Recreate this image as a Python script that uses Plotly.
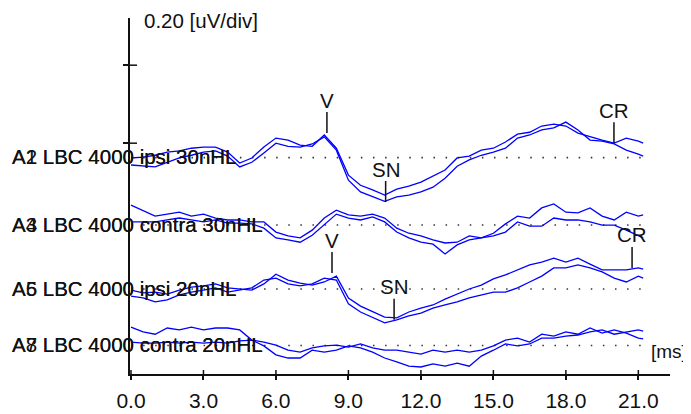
import plotly.graph_objects as go

# time axis (ms)
time_ms = [0.0, 0.5, 1.0, 1.5, 2.0, 2.5, 3.0, 3.5, 4.0, 4.5,
           5.0, 5.5, 6.0, 6.5, 7.0, 7.5, 8.0, 8.5, 9.0, 9.5,
           10.0, 10.5, 11.0, 11.5, 12.0, 12.5, 13.0, 13.5, 14.0, 14.5,
           15.0, 15.5, 16.0, 16.5, 17.0, 17.5, 18.0, 18.5, 19.0, 19.5,
           20.0, 20.5, 21.0, 21.2]

# amplitudes (uV) relative to each channel baseline
ch1_a = [-0.001, 0.001, 0.006, 0.014, 0.017, 0.024, 0.027, 0.027, 0.014, -0.014,
         -0.001, 0.027, 0.050, 0.045, 0.032, 0.029, 0.058, 0.024, -0.045, -0.071,
         -0.083, -0.096, -0.081, -0.073, -0.063, -0.047, -0.032, -0.001, 0.004, 0.019,
         0.024, 0.040, 0.060, 0.065, 0.081, 0.086, 0.081, 0.063, 0.053, 0.045,
         0.037, 0.050, 0.042, 0.037]
ch1_b = [-0.019, -0.022, -0.024, -0.012, -0.001, 0.006, 0.014, 0.017, 0.004, -0.024,
         -0.012, 0.012, 0.037, 0.029, 0.027, 0.035, 0.053, 0.019, -0.058, -0.088,
         -0.101, -0.112, -0.101, -0.096, -0.088, -0.076, -0.053, -0.022, -0.006, 0.006,
         0.014, 0.024, 0.050, 0.058, 0.071, 0.076, 0.091, 0.071, 0.045, 0.042,
         0.035, 0.019, 0.009, 0.004]
ch2_a = [0.051, 0.038, 0.023, 0.028, 0.033, 0.023, 0.028, 0.018, 0.013, 0.013,
         0.008, 0.008, -0.018, -0.028, -0.033, -0.013, 0.018, 0.038, 0.026, 0.023,
         0.028, 0.018, -0.008, -0.021, -0.028, -0.038, -0.046, -0.044, -0.028, -0.033,
         -0.021, 0.003, 0.023, 0.018, 0.044, 0.054, 0.033, 0.031, 0.044, 0.023,
         0.013, 0.033, 0.023, 0.026]
ch2_b = [0.008, 0.008, 0.008, 0.013, 0.018, 0.013, 0.008, 0.013, 0.005, 0.005,
         0.003, -0.008, -0.033, -0.038, -0.044, -0.026, 0.0, 0.028, 0.018, 0.013,
         0.021, 0.008, -0.018, -0.033, -0.044, -0.049, -0.074, -0.051, -0.038, -0.033,
         -0.028, -0.018, 0.008, -0.003, -0.003, 0.018, 0.013, 0.013, 0.008, 0.0,
         0.0, -0.013, -0.028, -0.033]
ch3_a = [-0.003, -0.010, -0.008, -0.013, -0.003, 0.005, 0.008, 0.013, 0.003, 0.0,
         -0.003, 0.013, 0.038, 0.023, 0.015, 0.010, 0.018, 0.033, -0.023, -0.044,
         -0.059, -0.072, -0.074, -0.059, -0.049, -0.041, -0.026, -0.013, 0.0, 0.010,
         0.026, 0.036, 0.049, 0.062, 0.069, 0.079, 0.069, 0.079, 0.064, 0.049,
         0.049, 0.049, 0.054, 0.051]
ch3_b = [-0.018, -0.023, -0.033, -0.028, -0.015, -0.008, -0.003, 0.003, -0.008, -0.003,
         0.003, 0.023, 0.028, 0.013, 0.008, 0.013, 0.028, 0.023, -0.038, -0.059,
         -0.074, -0.087, -0.079, -0.069, -0.062, -0.049, -0.041, -0.033, -0.023, -0.015,
         -0.008, -0.008, 0.003, 0.018, 0.033, 0.054, 0.054, 0.062, 0.054, 0.044,
         0.028, 0.018, 0.033, 0.028]
ch4_a = [0.047, 0.035, 0.029, 0.045, 0.040, 0.047, 0.040, 0.045, 0.045, 0.040,
         0.014, 0.009, 0.001, -0.012, -0.017, -0.006, -0.001, 0.001, -0.004, 0.004,
         -0.006, -0.012, -0.012, -0.017, -0.022, -0.012, -0.017, -0.012, -0.017, -0.012,
         -0.001, 0.014, 0.019, 0.009, 0.029, 0.024, 0.035, 0.029, 0.045, 0.032,
         0.040, 0.032, 0.019, 0.017]
ch4_b = [0.009, 0.006, 0.006, 0.009, 0.006, 0.009, 0.006, 0.009, 0.006, 0.012,
         0.014, -0.001, -0.024, -0.032, -0.032, -0.012, -0.017, -0.012, -0.001, -0.006,
         -0.017, -0.032, -0.042, -0.053, -0.055, -0.047, -0.053, -0.045, -0.053, -0.027,
         -0.012, 0.004, -0.001, 0.004, 0.019, 0.019, 0.024, 0.027, 0.035, 0.040,
         0.029, 0.035, 0.040, 0.037]

curves_a = [ch1_a, ch2_a, ch3_a, ch4_a]
curves_b = [ch1_b, ch2_b, ch3_b, ch4_b]

labels_a = ["A1 LBC 4000 ipsi 30nHL", "A3 LBC 4000 contra 30nHL",
            "A5 LBC 4000 ipsi 20nHL", "A7 LBC 4000 contra 20nHL"]
labels_b = ["A2 LBC 4000 ipsi 30nHL", "A4 LBC 4000 contra 30nHL",
            "A6 LBC 4000 ipsi 20nHL", "A8 LBC 4000 contra 20nHL"]

# baseline of each channel on the display (uV above the time axis)
channel_offsets = [0.555, 0.382, 0.218, 0.073]

# peak markers
peak_names = ["V", "SN", "CR", "V", "SN", "CR"]
peak_channel = [0, 0, 0, 2, 2, 2]
peak_ms = [8.11, 10.54, 19.99, 8.32, 10.89, 20.74]
peak_uV = [0.063, -0.114, 0.037, 0.041, -0.079, 0.054]

x_ticks = [0, 3, 6, 9, 12, 15, 18, 21]
x_ticktext = ["0.0", "3.0", "6.0", "9.0", "12.0", "15.0", "18.0", "21.0"]
y_ticks = [0.592, 0.792]

FONT = "Liberation Sans, Arial, sans-serif"
BLUE = "#0000ff"
INK = "#111111"

fig = go.Figure()

for i, off in enumerate(channel_offsets):
    fig.add_trace(go.Scatter(
        x=[time_ms[0], time_ms[-1]], y=[off, off], mode="lines",
        line=dict(color="#333333", width=1.6, dash="1.5px,10.6px"),
        hoverinfo="skip", showlegend=False))
    for curve in (curves_a[i], curves_b[i]):
        fig.add_trace(go.Scatter(
            x=time_ms, y=[off + v for v in curve], mode="lines",
            line=dict(color=BLUE, width=1.3), showlegend=False))

annotations = []
for i, off in enumerate(channel_offsets):
    for lab in (labels_a[i], labels_b[i]):
        annotations.append(dict(
            x=-0.2222, xref="paper", y=off, yref="y", text=lab,
            xanchor="left", yanchor="middle", showarrow=False, yshift=1,
            font=dict(family=FONT, size=20.5, color=INK)))

for name, ch, t, amp in zip(peak_names, peak_channel, peak_ms, peak_uV):
    annotations.append(dict(
        x=t, y=channel_offsets[ch] + amp, xref="x", yref="y", text=name,
        showarrow=True, arrowhead=0, arrowwidth=1.5, arrowcolor=INK,
        ax=0, ay=-33, borderpad=0,
        font=dict(family=FONT, size=20.5, color=INK)))

annotations.append(dict(
    x=0.0222, xref="paper", y=1, yref="paper", text="0.20 [uV/div]",
    xanchor="left", yanchor="middle", yshift=-2, showarrow=False,
    font=dict(family=FONT, size=20.5, color=INK)))
annotations.append(dict(
    x=0.962, xref="paper", y=0.0646, yref="paper", text="[ms]",
    xanchor="left", yanchor="middle", showarrow=False,
    font=dict(family=FONT, size=19, color=INK)))

# inner halves of the tick marks (ticks cross the axis lines)
shapes = []
for tv in x_ticks:
    shapes.append(dict(type="line", xref="x", x0=tv, x1=tv,
                       yref="y", ysizemode="pixel", yanchor=0, y0=0, y1=4,
                       line=dict(color=INK, width=1.5)))
for tv in y_ticks:
    shapes.append(dict(type="line", yref="y", y0=tv, y1=tv,
                       xref="x", xsizemode="pixel", xanchor=-0.041, x0=0, x1=7,
                       line=dict(color=INK, width=1.5)))

xr = [-0.041, 22.31]
yr = [0, 0.913]

# the page body adds an 8px margin, so the figure is 8px smaller than the window
fig.update_layout(
    width=683, height=406,
    margin=dict(l=122, r=21, t=10, b=40, autoexpand=False),
    paper_bgcolor="white", plot_bgcolor="white",
    showlegend=False,
    annotations=annotations,
    shapes=shapes,
    xaxis=dict(range=xr, tickvals=x_ticks, ticktext=x_ticktext,
               ticks="outside", ticklen=4, tickwidth=1.5, tickcolor=INK,
               showline=True, linecolor=INK, linewidth=1.5,
               showgrid=False, zeroline=False, ticklabelstandoff=3,
               automargin=False,
               tickfont=dict(family=FONT, size=21, color=INK)),
    yaxis=dict(range=yr, tickvals=y_ticks, ticks="outside", ticklen=5,
               tickwidth=1.5, tickcolor=INK, showticklabels=False,
               showline=True, linecolor=INK, linewidth=1.5,
               showgrid=False, zeroline=False, automargin=False),
)

fig.write_html("out.html")
